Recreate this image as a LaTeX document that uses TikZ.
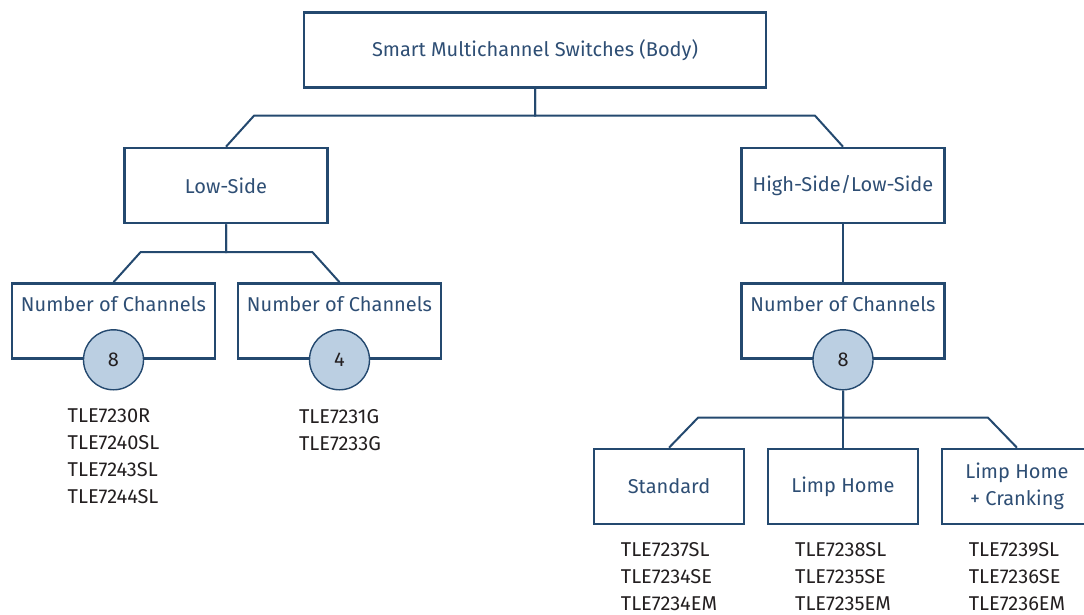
\documentclass[tikz,border=0pt]{standalone}
\usepackage{fontspec}
\setmainfont{Fira Sans}

\definecolor{boxblue}{HTML}{24496F}
\definecolor{labelblue}{HTML}{2E4E74}
\definecolor{dotfill}{HTML}{BBCFE2}
\definecolor{partgray}{HTML}{231F20}

\begin{document}
\begin{tikzpicture}[x=1pt, y=-1pt]
        % Define styles for boxes, circles and links
        \tikzset{
            box/.style={draw=boxblue, line width=2.6pt, minimum width=203pt, minimum height=75pt,
                inner sep=0pt, text=labelblue, align=center, font=\fontsize{20}{27}\selectfont},
            small box/.style={box, minimum width=150pt},
            count/.style={circle, draw=boxblue, line width=1.4pt, fill=dotfill, minimum size=60pt,
                inner sep=0pt, text=partgray, font=\fontsize{20}{23}\selectfont},
            parts/.style={anchor=north, align=left, inner sep=0pt, text=partgray,
                font=\fontsize{20}{27}\selectfont},
            link/.style={draw=boxblue, line width=2pt}
        }
        \useasboundingbox (0,0) rectangle (1084,614);

        % Top of the tree
        \node[box, minimum width=462pt] (top) at (535,50) {Smart Multichannel Switches (Body)};
        \node[box] (low) at (226,185.5) {Low-Side};
        \node[box] (hsls) at (843,185.5) {High-Side/Low-Side};

        % Number of channels boxes
        \node[box, label={[text=labelblue, font=\fontsize{20}{23}\selectfont, anchor=north, yshift=-11pt]north:Number of Channels}] (noc1) at (113.5,321) {};
        \node[box, label={[text=labelblue, font=\fontsize{20}{23}\selectfont, anchor=north, yshift=-11pt]north:Number of Channels}] (noc2) at (339.5,321) {};
        \node[box, label={[text=labelblue, font=\fontsize{20}{23}\selectfont, anchor=north, yshift=-11pt]north:Number of Channels}] (noc3) at (843,321) {};

        % Circles with the channel count
        \node[count] (num1) at (noc1.south) {8};
        \node[count] (num2) at (noc2.south) {4};
        \node[count] (num3) at (noc3.south) {8};

        % Variants of the high-side/low-side family
        \node[small box] (std) at (669,486.5) {Standard};
        \node[small box] (lh) at (843,486.5) {Limp Home};
        \node[small box] (lhc) at (1017,486.5) {Limp Home\\+ Cranking};

        % Part numbers
        \node[parts] (parts1) at (113.5,409) {TLE7230R\\TLE7240SL\\TLE7243SL\\TLE7244SL};
        \node[parts] (parts2) at (340,409) {TLE7231G\\TLE7233G};
        \node[parts] (parts3) at (669,542) {TLE7237SL\\TLE7234SE\\TLE7234EM};
        \node[parts] (parts4) at (843,542) {TLE7238SL\\TLE7235SE\\TLE7235EM};
        \node[parts] (parts5) at (1017,542) {TLE7239SL\\TLE7236SE\\TLE7236EM};

        % Links between the boxes
        \draw[link] (low.north) -- ++(28,-31) -| (top.south);
        \draw[link] (hsls.north) -- ++(-28,-31) -| (top.south);
        \draw[link] (noc1.north) -- ++(27,-30) -| (low.south);
        \draw[link] (noc2.north) -- ++(-27,-30) -| (low.south);
        \draw[link] (hsls.south) -- (noc3.north);
        \draw[link] (num3.south) -- (lh.north);
        \draw[link] (std.north) -- ++(29,-30) -| (num3.south);
        \draw[link] (lhc.north) -- ++(-29,-30) -| (num3.south);

    \end{tikzpicture}
\end{document}
